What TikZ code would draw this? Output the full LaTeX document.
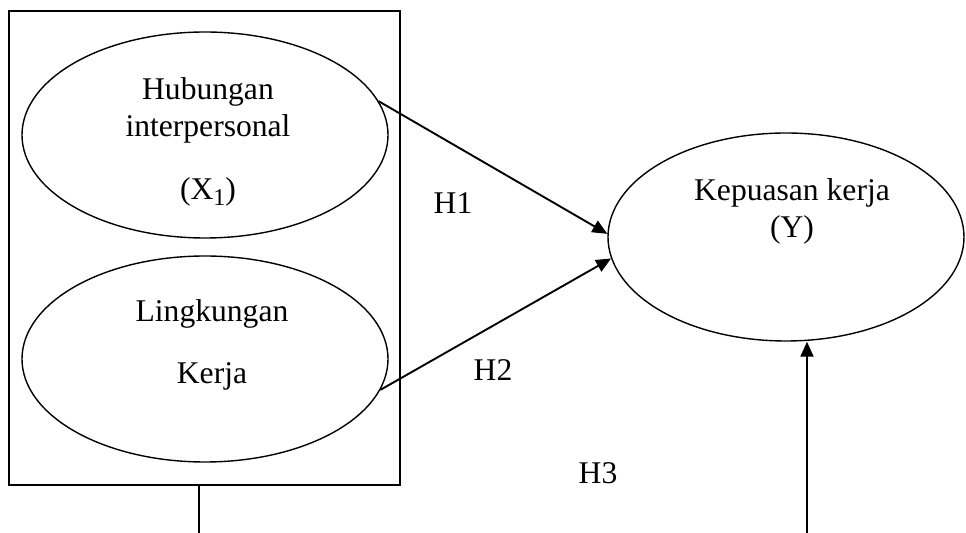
\documentclass[tikz,border=0pt]{standalone}
\usepackage{fontspec}
\setmainfont{Liberation Serif}
\usetikzlibrary{shapes.geometric,arrows.meta}
\begin{document}
\begin{tikzpicture}[x=0.5pt,y=-0.5pt]
    \tikzstyle{every node}=[inner sep=0pt, font=\fontsize{15.8}{18.5}\selectfont]
    \tikzstyle{var}=[draw, ellipse, line width=0.7pt, minimum width=183pt, minimum height=103pt]
    \tikzstyle{txt}=[align=center]
    \tikzstyle{hyp}=[line width=0.95pt, -{Triangle[length=7.5pt,width=6.5pt]}]
    \useasboundingbox (0,0) rectangle (966,533);
    \node[draw, line width=0.9pt, minimum width=195.5pt, minimum height=237pt] (blok) at (204.5,248) {};
    \node[var] (hub) at (205,135) {};
    \node[var] (lk) at (205,359) {};
    \node[var, minimum width=178pt, minimum height=104pt] (kep) at (786,237) {};
    \node[txt] (hubtxt) at (208,142) {Hubungan\\interpersonal\\[13pt](X\raisebox{-0.2em}{\fontsize{12}{12}\selectfont 1})};
    \node[txt] (lktxt) at (212,345) {Lingkungan\\[12.5pt]Kerja};
    \node[txt] (keptxt) at (792,211) {Kepuasan kerja\\(Y)};
    \node (h1) at (453,203) {H1};
    \node (h2) at (493,370) {H2};
    \node (h3) at (598,473) {H3};
    \coordinate (bawah) at (199,533);
    \coordinate (akar) at (807,533);
    \draw[hyp] (hub.11) -- (kep.179);
    \draw[hyp] (lk.-10) -- (kep.187);
    \draw[line width=0.9pt] (blok.south -| bawah) -- (bawah);
    \draw[hyp] (akar) -- (akar |- kep.south);
\end{tikzpicture}
\end{document}
